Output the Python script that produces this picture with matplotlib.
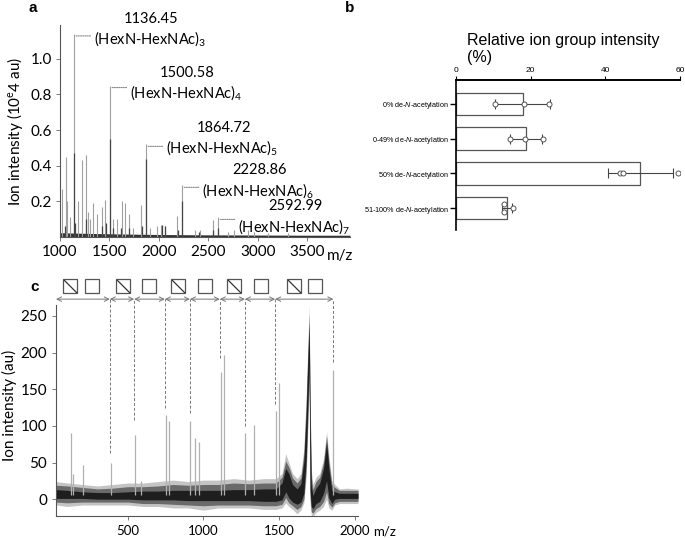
import numpy as np
import matplotlib; matplotlib.use("Agg")
import matplotlib.pyplot as plt
from matplotlib.path import Path
from matplotlib.transforms import ScaledTranslation

plt.rcParams["font.family"] = ["Lato", "DejaVu Sans"]
plt.rcParams["mathtext.fontset"] = "custom"
plt.rcParams["mathtext.rm"] = "Lato"
plt.rcParams["mathtext.it"] = "Liberation Sans:italic"

# ---- panel a: spectrum (m/z, intensity in 10e4 au)
A_PEAK_MZ = [1017, 1057, 1074, 1101, 1136.45, 1178, 1219, 1259, 1279, 1303, 1337, 1377,
             1421, 1455, 1500.58, 1539, 1572, 1623, 1657, 1697, 1741, 1818, 1864.72,
             1909, 1976, 2020, 2061, 2178, 2228.86, 2364, 2414, 2545, 2592.99,
             2700, 2760, 2900, 2960, 3100, 3300]
A_PEAK_H = [0.27, 0.45, 0.20, 0.11, 1.14, 0.20, 0.43, 0.46, 0.14, 0.10, 0.19, 0.13,
            0.17, 0.21, 0.85, 0.10, 0.10, 0.20, 0.19, 0.13, 0.05, 0.18, 0.52,
            0.05, 0.06, 0.07, 0.06, 0.12, 0.29, 0.04, 0.04, 0.095, 0.11,
            0.03, 0.04, 0.04, 0.03, 0.02, 0.02]
A_DARK_MZ = [1050, 1136.45, 1150, 1259, 1420, 1460, 1500.58, 1540, 1620, 1700, 1830,
             1864.72, 2030, 2060, 2190, 2228.86, 2400, 2550, 2592.99]
A_DARK_H = [0.06, 0.47, 0.08, 0.10, 0.06, 0.08, 0.55, 0.05, 0.05, 0.05, 0.06,
            0.44, 0.07, 0.06, 0.04, 0.20, 0.03, 0.04, 0.05]
A_BASE_MZ = [1000, 1300, 1600, 2000, 2500, 3000, 3500, 3930]
A_BASE_HI = [0.024, 0.020, 0.017, 0.014, 0.012, 0.011, 0.010, 0.010]
A_LABEL_MZ = [1136.45, 1500.58, 1864.72, 2228.86, 2592.99]
A_LABEL_H = [1.14, 0.85, 0.52, 0.29, 0.11]
A_LABEL_N = [3, 4, 5, 6, 7]

# ---- panel b: relative ion group intensity (%)
B_CATS = ["0% de-$N$-acetylation", "0-49% de-$N$-acetylation",
          "50% de-$N$-acetylation", "51-100% de-$N$-acetylation"]
B_POINTS = [[10.4, 18.2, 24.9], [14.4, 18.6, 23.2], [43.8, 44.8, 59.4], [12.9, 12.8, 15.3]]

# ---- panel c: spectrum (m/z, au)
C_ENV_MZ = [25, 100, 200, 300, 400, 500, 600, 700, 800, 900, 1000, 1100, 1200, 1300, 1400,
            1480, 1520, 1545, 1565, 1590, 1620, 1645, 1665, 1680, 1692, 1700, 1706, 1714,
            1725, 1745, 1770, 1795, 1815, 1830, 1850, 1870, 1900, 1950, 2000, 2023]
C_OUT_HI = [24, 22, 20, 18, 20, 22, 22, 24, 26, 24, 26, 26, 28, 26, 28,
            28, 35, 62, 50, 35, 28, 35, 70, 140, 215, 265, 150, 40,
            20, 30, 35, 55, 92, 60, 25, 20, 14, 15, 14, 14]
C_OUT_LO = [-8, -10, -8, -8, -8, -8, -10, -10, -12, -12, -15, -12, -12, -12, -14,
            -14, -12, -5, -10, -14, -20, -15, -5, 30, 100, 150, -5, -22,
            -24, -18, -15, -10, 0, -12, -15, -8, -6, -6, -6, -6]
C_MID_HI = [19, 18, 16, 14, 15, 17, 17, 18, 20, 19, 20, 20, 22, 21, 22,
            22, 30, 52, 44, 29, 22, 29, 62, 130, 205, 252, 135, 30,
            13, 24, 30, 50, 86, 52, 20, 16, 12, 12, 12, 12]
C_MID_LO = [-4, -5, -4, -4, -4, -4, -6, -6, -7, -8, -9, -8, -8, -8, -9,
            -9, -7, 2, -5, -9, -14, -10, 0, 40, 115, 165, 3, -17,
            -19, -13, -10, -3, 10, -6, -11, -5, -3, -3, -3, -3]
C_IN_HI = [13, 12, 10, 9, 9, 10, 11, 11, 12, 12, 12, 12, 13, 13, 14,
           14, 22, 42, 35, 20, 14, 21, 52, 115, 195, 240, 115, 18,
           5, 15, 22, 42, 78, 42, 12, 10, 8, 8, 8, 8]
C_IN_LO = [1, 1, 1, 0, 0, 0, -1, -1, -1, -2, -2, -2, -2, -2, -3,
           -3, -1, 10, 2, -4, -7, -4, 8, 55, 135, 185, 12, -10,
           -13, -6, -3, 8, 25, 2, -6, 0, 1, 1, 1, 1]
C_PEAK_MZ = [123, 138, 204, 387, 546, 590, 750, 773, 911, 944, 972, 1114, 1138,
             1275, 1336, 1478, 1502, 1860]
C_PEAK_H = [90, 35, 46, 49, 88, 25, 115, 106, 106, 83, 78, 174, 197,
            90, 101, 121, 158, 176]
C_START = 25
C_BOUND_MZ = [381, 542, 745, 911, 1109, 1275, 1475, 1860]
C_BOUND_STOP = [63, 108, 125, 118, 192, 100, 130, 187]
C_SYM_MZ = [120, 263, 465, 641, 833, 1010, 1202, 1381, 1601, 1740]
C_SYM_KIND = ["HexN", "HexNAc"] * 5

W, H = 685, 538
fig = plt.figure(figsize=(W/100, H/100), dpi=100)

def box(l, t, r, b):
    return [l/W, 1-b/H, (r-l)/W, (b-t)/H]

# ================= panel a
ax = fig.add_axes(box(60, 25, 350, 237))
ax.fill_between(A_BASE_MZ, 0, A_BASE_HI, color="#333", lw=0)
ax.vlines(A_PEAK_MZ, 0, A_PEAK_H, colors="#a0a0a0", lw=0.8)
ax.vlines(A_DARK_MZ, 0, A_DARK_H, colors="#444", lw=0.9)
ax.set_xlim(1000, 3930); ax.set_ylim(0, 1.19)
ax.set_xticks([1000, 1500, 2000, 2500, 3000, 3500])
ax.set_yticks([0.2, 0.4, 0.6, 0.8, 1.0])
ax.tick_params(labelsize=11, length=3, width=0.6, color="#666", pad=3)
for s in ["top", "right"]: ax.spines[s].set_visible(False)
for s in ["left", "bottom"]: ax.spines[s].set_color("#555"); ax.spines[s].set_linewidth(0.8)
num_up = [15, 13, 16, 15, 11]      # px above peak top
name_down = [5, 7, 3, 5, 9]        # px below peak top
for mz, h, n, up, dn in zip(A_LABEL_MZ, A_LABEL_H, A_LABEL_N, num_up, name_down):
    ax.annotate("", xy=(mz, h), xytext=(mz, h),
                xycoords=ax.transData + ScaledTranslation(0.02, -0.02, fig.dpi_scale_trans),
                textcoords=ax.transData + ScaledTranslation(0.17, -0.02, fig.dpi_scale_trans),
                arrowprops=dict(arrowstyle="-", color="#888", lw=0.8, ls=(0, (1, 1)),
                                shrinkA=0, shrinkB=0), annotation_clip=False)
    ax.annotate("(HexN-HexNAc)$_{%d}$" % n, xy=(mz, h), xytext=(20*0.72, -dn*0.72),
                textcoords="offset points", ha="left", va="center", fontsize=10.5,
                annotation_clip=False)
    ax.annotate("%.2f" % mz, xy=(mz, h), xytext=(78*0.72, up*0.72),
                textcoords="offset points", ha="center", va="center", fontsize=10.5,
                annotation_clip=False)
fig.text(340/W, 1-256/H, "m/z", fontsize=11, ha="center", va="center")
fig.text(15/W, 1-131/H, "Ion intensity (10$^\\mathrm{e}$4 au)", rotation=90,
         fontsize=11, ha="center", va="center")

# ================= panel b
bx = fig.add_axes(box(456, 80, 680, 230))
means = [np.mean(p) for p in B_POINTS]
sds = [np.std(p, ddof=1) for p in B_POINTS]
yy = np.arange(len(B_CATS))
bx.barh(yy, means, height=0.65, color="white", edgecolor="#555", lw=0.9)
bx.errorbar(means, yy, xerr=sds, fmt="none", ecolor="#444", elinewidth=0.8,
            capsize=3.6, capthick=0.8)
for i, pts in enumerate(B_POINTS):
    off = [0, 0, 0] if i < 3 else [-0.12, 0.12, 0]
    bx.plot(pts, [i + o for o in off], "o", mfc="white", mec="#555", ms=3.6, mew=0.7)
bx.set_xlim(0, 60); bx.set_ylim(3.63, -0.69)
bx.xaxis.tick_top()
bx.set_xticks([0, 20, 40, 60])
bx.set_yticks(yy)
bx.set_yticklabels(B_CATS, family=["Liberation Sans"], fontsize=5.2)
for lab in bx.get_xticklabels(): lab.set_family(["Liberation Sans"])
bx.tick_params(axis="x", labelsize=6, length=3, width=0.8, pad=1)
bx.tick_params(axis="y", length=4, width=1.0, pad=1)
for s in ["bottom", "right"]: bx.spines[s].set_visible(False)
bx.spines["top"].set_linewidth(1.4); bx.spines["left"].set_linewidth(1.2)
fig.text(467/W, 1-33/H, "Relative ion group intensity\n(%)", family=["Liberation Sans"],
         fontsize=11.5, ha="left", va="top", linespacing=1.2)

# ================= panel c
cx = fig.add_axes(box(56, 305, 358, 516))
cx.fill_between(C_ENV_MZ, C_OUT_LO, C_OUT_HI, color="#c4c4c4", lw=0)
cx.vlines(C_PEAK_MZ, 5, C_PEAK_H, colors="#b0b0b0", lw=0.9)
cx.fill_between(C_ENV_MZ, C_MID_LO, C_MID_HI, color="#6a6a6a", lw=0)
cx.fill_between(C_ENV_MZ, C_IN_LO, C_IN_HI, color="#1e1e1e", lw=0)
cx.set_xlim(25, 2023); cx.set_ylim(-23, 265)
cx.set_xticks([500, 1000, 1500, 2000]); cx.set_yticks(range(0, 251, 50))
cx.tick_params(axis="x", labelsize=9.5, length=3, width=0.6, color="#666")
cx.tick_params(axis="y", labelsize=11, length=3, width=0.6, color="#666")
for s in ["top", "right"]: cx.spines[s].set_visible(False)
for s in ["left", "bottom"]: cx.spines[s].set_color("#555"); cx.spines[s].set_linewidth(0.8)
y_arrow = 273; y_sym = 291
cx.vlines(C_BOUND_MZ, C_BOUND_STOP, y_arrow, colors="#777", lw=0.7,
          linestyles=(0, (3, 2)), clip_on=False)
edges = [C_START] + C_BOUND_MZ
for a, b in zip(edges[:-1], edges[1:]):
    cx.annotate("", xy=(b, y_arrow), xytext=(a, y_arrow), annotation_clip=False,
                arrowprops=dict(arrowstyle="<->", color="#777", lw=0.7,
                                shrinkA=0, shrinkB=0, mutation_scale=8))
diag = Path([(-1, 1), (1, -1)])
for mz, kind in zip(C_SYM_MZ, C_SYM_KIND):
    cx.plot([mz], [y_sym], "s", ms=9.4, mfc="white", mec="#555", mew=0.9, clip_on=False)
    if kind == "HexN":
        cx.plot([mz], [y_sym], marker=diag, ms=9.4, mfc="none", mec="#333", mew=0.9,
                clip_on=False)
fig.text(385/W, 1-532/H, "m/z", fontsize=9.5, ha="center", va="center")
fig.text(9/W, 1-405/H, "Ion intensity (au)", rotation=90, fontsize=11,
         ha="center", va="center")

for lbl, x, y in [("a", 33, 8), ("b", 350, 8), ("c", 35, 287)]:
    fig.text(x/W, 1-y/H, lbl, family=["Liberation Sans"], fontweight="bold",
             fontsize=11, ha="center", va="center")

fig.savefig("out.png", dpi=100)
